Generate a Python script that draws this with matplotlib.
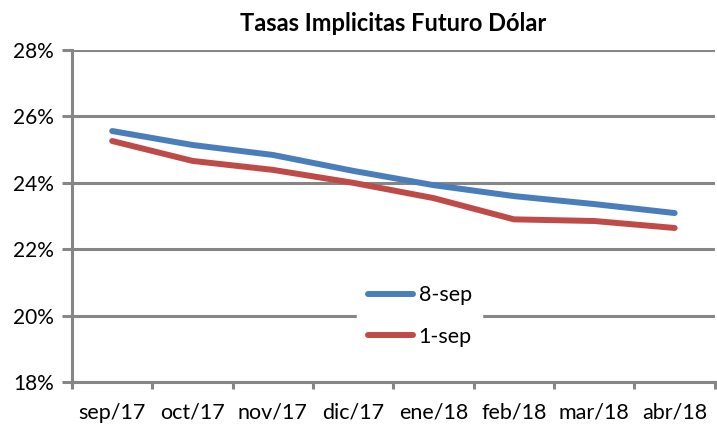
import matplotlib.pyplot as plt
import numpy as np
from matplotlib.ticker import FuncFormatter, FixedLocator

meses = ["sep/17", "oct/17", "nov/17", "dic/17", "ene/18", "feb/18", "mar/18", "abr/18"]
tasa_8sep = [25.56, 25.14, 24.84, 24.36, 23.93, 23.60, 23.36, 23.09]
tasa_1sep = [25.26, 24.66, 24.39, 24.00, 23.54, 22.90, 22.85, 22.64]

plt.rcParams['font.family'] = ['Lato', 'DejaVu Sans']

gris = '#868686'
fig = plt.figure(figsize=(7.17, 4.24), dpi=100)
ax = fig.add_axes([0.1004, 0.099, 0.8966, 0.783])

x = np.arange(len(meses))
ax.plot(x, tasa_8sep, color='#4A7EBB', lw=4.3, solid_capstyle='round', label='8-sep', zorder=3)
ax.plot(x, tasa_1sep, color='#BE4B48', lw=4.3, solid_capstyle='round', label='1-sep', zorder=3)

ax.set_ylim(18, 28)
ax.set_xlim(-0.5, len(meses) - 0.5)
ax.set_yticks(np.arange(18, 29, 2))
ax.yaxis.set_major_formatter(FuncFormatter(lambda v, p: '%d%%' % v))
ax.grid(axis='y', color=gris, lw=2.2, zorder=1)

ax.set_xticks(x)
ax.set_xticklabels(meses)
ax.xaxis.set_minor_locator(FixedLocator(np.arange(-0.5, len(meses), 1)))
ax.tick_params(axis='x', which='major', length=0, pad=15, labelsize=15.5)
ax.tick_params(axis='x', which='minor', length=5, width=2.2, color=gris, direction='out')
ax.tick_params(axis='y', length=7, width=2.2, color=gris, direction='out', pad=6, labelsize=15)

for s in ['top', 'right']:
    ax.spines[s].set_visible(False)
for s in ['left', 'bottom']:
    ax.spines[s].set_color(gris)
    ax.spines[s].set_linewidth(2.2)

ax.set_title('Tasas Implicitas Futuro Dólar', fontsize=17, fontweight='bold', pad=14)

leg = ax.legend(loc='center', bbox_to_anchor=(0.541, 0.199), frameon=True, fontsize=15.5,
                handlelength=2.1, labelspacing=1.0, borderpad=0.5, handletextpad=0.25,
                borderaxespad=0)
leg.get_frame().set_facecolor('white')
leg.get_frame().set_edgecolor('white')
leg.get_frame().set_alpha(1)
leg.set_zorder(5)

fig.savefig('out.png', dpi=100)
